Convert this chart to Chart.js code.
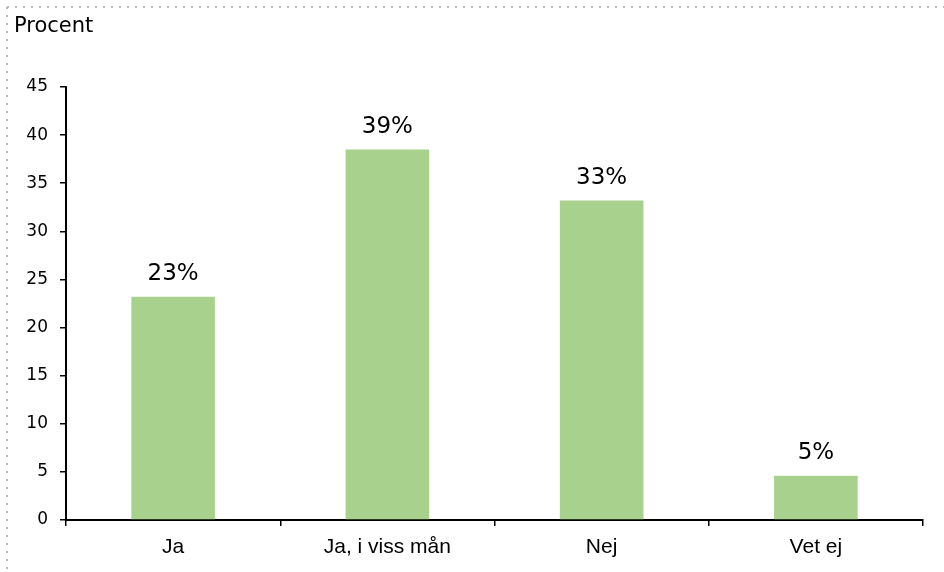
<!DOCTYPE html>
<html>
<head>
<meta charset="utf-8">
<script src="https://cdn.jsdelivr.net/npm/chart.js@4.4.0/dist/chart.umd.min.js"></script>
<style>
  html, body { margin: 0; padding: 0; background: #fff; }
  #wrap { width: 944px; height: 572px; position: relative; }
</style>
</head>
<body>
<div id="wrap"><canvas id="chart" width="944" height="572"></canvas></div>
<script>
// data
const categories = ['Ja', 'Ja, i viss mån', 'Nej', 'Vet ej'];
const values = [23.2, 38.5, 33.2, 4.6];
const valueLabels = ['23%', '39%', '33%', '5%'];
const yTicks = [0, 5, 10, 15, 20, 25, 30, 35, 40, 45];

// ram, rubrik och etiketter
const extras = {
    id: 'extras',
    beforeDraw(chart) {
        const ctx = chart.ctx;
        ctx.save();
        ctx.strokeStyle = '#bdbdbd';
        ctx.lineWidth = 2;
        ctx.setLineDash([2, 6]);
        ctx.beginPath();
        ctx.moveTo(7, 7);
        ctx.lineTo(chart.width, 7);
        ctx.moveTo(7, 7);
        ctx.lineTo(7, chart.height);
        ctx.stroke();
        ctx.restore();
    },
    afterDatasetsDraw(chart) {
        const ctx = chart.ctx;
        ctx.save();
        ctx.fillStyle = '#000';
        ctx.font = '21px "DejaVu Sans"';
        ctx.textAlign = 'left';
        ctx.textBaseline = 'alphabetic';
        ctx.fillText('Procent', 14, 32);

        ctx.font = '23px "DejaVu Sans"';
        ctx.textAlign = 'center';
        chart.getDatasetMeta(0).data.forEach((bar, i) => {
            ctx.fillText(valueLabels[i], bar.x, bar.y - 17);
        });
        ctx.restore();
    }
};

new Chart(document.getElementById('chart'), {
    type: 'bar',
    data: {
        labels: categories,
        datasets: [{
            data: values,
            backgroundColor: '#a9d18e',
            borderWidth: 0,
            categoryPercentage: 1,
            barPercentage: 0.39
        }]
    },
    options: {
        responsive: false,
        animation: false,
        layout: { padding: { top: 87, right: 21, left: 0, bottom: 0 } },
        plugins: { legend: { display: false }, tooltip: { enabled: false } },
        scales: {
            x: {
                grid: { display: true, drawOnChartArea: false, offset: true, color: '#000', lineWidth: 1.5, tickLength: 6 },
                border: { display: true, color: '#000', width: 2 },
                ticks: { color: '#000', font: { family: '"Liberation Sans"', size: 21 }, padding: 9, maxRotation: 0 },
                afterFit(scale) { scale.height = 52; }
            },
            y: {
                min: 0,
                max: 45,
                afterBuildTicks(scale) { scale.ticks = yTicks.map(v => ({ value: v })); },
                grid: { display: true, drawOnChartArea: false, color: '#000', lineWidth: 1.5, tickLength: 6 },
                border: { display: true, color: '#000', width: 2 },
                ticks: { color: '#000', font: { family: '"DejaVu Sans"', size: 17 }, padding: 12 },
                afterFit(scale) { scale.width = 66; }
            }
        }
    },
    plugins: [extras]
});
</script>
</body>
</html>
